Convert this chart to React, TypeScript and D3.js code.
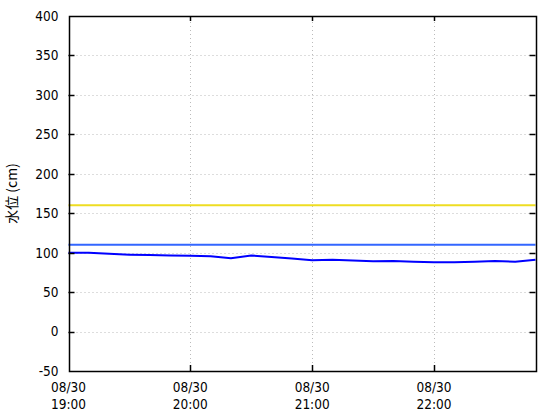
import { useEffect, useRef } from 'react'
import * as d3 from 'd3'

// 10-minute readings, 08/30 19:00 .. 22:50
const times = [
  '19:00', '19:10', '19:20', '19:30', '19:40', '19:50',
  '20:00', '20:10', '20:20', '20:30', '20:40', '20:50',
  '21:00', '21:10', '21:20', '21:30', '21:40', '21:50',
  '22:00', '22:10', '22:20', '22:30', '22:40', '22:50',
]
const waterLevel = [
  100, 100, 98.5, 97.5, 97, 96.5,
  96, 95.5, 93, 96.5, 94.5, 92.5,
  90.5, 91, 90, 89, 89.5, 88.5,
  88, 88, 88.5, 89.5, 88.5, 91,
]
const yellowLevel = 160
const blueLevel = 110
const yTicks = [-50, 0, 50, 100, 150, 200, 250, 300, 350, 400]
const xTickTimes = ['19:00', '20:00', '21:00', '22:00']
const dateLabel = '08/30'

const toDate = (t: string) => new Date(`2020-08-30T${t}:00`)

export default function App() {
  const svgRef = useRef<SVGSVGElement>(null)

  useEffect(() => {
    if (!svgRef.current) return
    const width = 560
    const height = 420
    const marginLeft = 68.5
    const marginRight = 24.5
    const marginTop = 16
    const marginBottom = 49
    const tickFont = '"DejaVu Sans", sans-serif'
    const titleFont = '"Noto Sans CJK JP", sans-serif'

    const svg = d3.select(svgRef.current)
      .attr('width', width)
      .attr('height', height)
      .attr('viewBox', [0, 0, width, height].join(' '))
    svg.selectAll('*').remove()

    const x = d3.scaleTime()
      .domain([toDate(times[0]), toDate(times[times.length - 1])])
      .range([marginLeft, width - marginRight])
    const y = d3.scaleLinear()
      .domain([-50, 400])
      .range([height - marginBottom, marginTop])

    const [x0, x1] = x.range()
    const [y0, y1] = y.range()
    const px = (v: number) => Math.round(v) + 0.5

    svg.append('rect')
      .attr('width', width).attr('height', height).attr('fill', '#fff')

    // grid
    const grid = svg.append('g')
      .attr('stroke', '#bbb')
      .attr('stroke-dasharray', '1,3')
      .attr('stroke-width', 1)
    grid.selectAll('line.h')
      .data(yTicks.slice(1, -1))
      .join('line')
      .attr('class', 'h')
      .attr('x1', x0).attr('x2', x1)
      .attr('y1', d => px(y(d))).attr('y2', d => px(y(d)))
    grid.selectAll('line.v')
      .data(xTickTimes.slice(1))
      .join('line')
      .attr('class', 'v')
      .attr('y1', y0).attr('y2', y1)
      .attr('x1', d => px(x(toDate(d)))).attr('x2', d => px(x(toDate(d))))

    // reference levels
    svg.append('line')
      .attr('x1', x0).attr('x2', x1)
      .attr('y1', y(yellowLevel)).attr('y2', y(yellowLevel))
      .attr('stroke', '#eedd22').attr('stroke-width', 2)
    svg.append('line')
      .attr('x1', x0).attr('x2', x1)
      .attr('y1', y(blueLevel)).attr('y2', y(blueLevel))
      .attr('stroke', '#3366ff').attr('stroke-width', 2)

    // water level
    const line = d3.line<number>()
      .x((_, i) => x(toDate(times[i])))
      .y(d => y(d))
    svg.append('path')
      .datum(waterLevel)
      .attr('d', line)
      .attr('fill', 'none')
      .attr('stroke', '#0000ff')
      .attr('stroke-width', 2)

    // frame
    svg.append('rect')
      .attr('x', px(x0)).attr('y', px(y1))
      .attr('width', Math.round(x1) - Math.round(x0)).attr('height', Math.round(y0) - Math.round(y1))
      .attr('fill', 'none').attr('stroke', '#000').attr('stroke-width', 1.5)

    // ticks
    const ticks = svg.append('g').attr('stroke', '#000').attr('stroke-width', 1.5)
    ticks.selectAll('line.l')
      .data(yTicks.slice(1, -1))
      .join('line')
      .attr('class', 'l')
      .attr('x1', x0).attr('x2', x0 + 6)
      .attr('y1', d => px(y(d))).attr('y2', d => px(y(d)))
    ticks.selectAll('line.r')
      .data(yTicks.slice(1, -1))
      .join('line')
      .attr('class', 'r')
      .attr('x1', x1 - 6).attr('x2', x1)
      .attr('y1', d => px(y(d))).attr('y2', d => px(y(d)))
    ticks.selectAll('line.b')
      .data(xTickTimes.slice(1))
      .join('line')
      .attr('class', 'b')
      .attr('y1', y0).attr('y2', y0 - 6)
      .attr('x1', d => px(x(toDate(d)))).attr('x2', d => px(x(toDate(d))))
    ticks.selectAll('line.t')
      .data(xTickTimes.slice(1))
      .join('line')
      .attr('class', 't')
      .attr('y1', y1).attr('y2', y1 + 5)
      .attr('x1', d => px(x(toDate(d)))).attr('x2', d => px(x(toDate(d))))

    // y tick labels
    svg.append('g')
      .style('font', `13.5px ${tickFont}`)
      .style('font-stretch', 'condensed')
      .attr('text-anchor', 'end')
      .selectAll('text')
      .data(yTicks)
      .join('text')
      .attr('x', x0 - 10)
      .attr('y', d => y(d))
      .attr('dy', '0.36em')
      .text(d => d)

    // x tick labels
    const xl = svg.append('g')
      .style('font', `13.5px ${tickFont}`)
      .style('font-stretch', 'condensed')
      .attr('text-anchor', 'middle')
      .selectAll('g')
      .data(xTickTimes)
      .join('g')
      .attr('transform', d => `translate(${x(toDate(d))},0)`)
    xl.append('text').attr('y', 392).text(dateLabel)
    xl.append('text').attr('y', 408.5).text(d => d)

    // y axis title
    svg.append('text')
      .attr('transform', `translate(17,${(y0 + y1) / 2}) rotate(-90)`)
      .attr('text-anchor', 'middle')
      .style('font', `14px ${titleFont}`)
      .text('水位 (cm)')
  }, [])

  return <svg ref={svgRef} style={{ display: 'block', position: 'absolute', left: 0, top: 0 }} />
}
